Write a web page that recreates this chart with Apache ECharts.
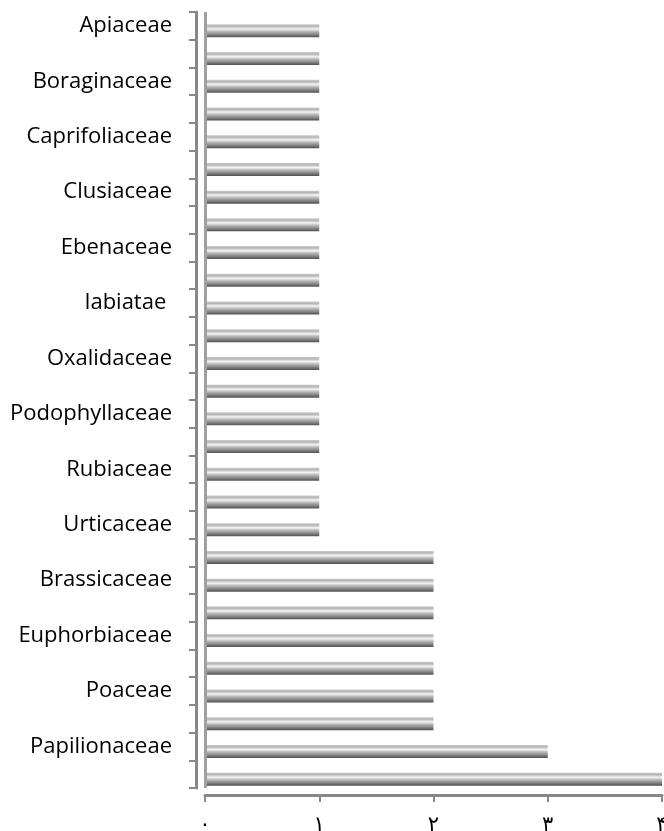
<!DOCTYPE html>
<html>
<head>
<meta charset="utf-8">
<script src="https://cdn.jsdelivr.net/npm/echarts@6/dist/echarts.min.js"></script>
<style>
  html, body { margin: 0; padding: 0; background: #fff; }
  #main { width: 664px; height: 831px; }
</style>
</head>
<body>
<div id="main"></div>
<script>
// categories top to bottom; only every other name is printed in the source
const families = [
  'Apiaceae', '', 'Boraginaceae', '', 'Caprifoliaceae', '', 'Clusiaceae', '',
  'Ebenaceae', '', 'labiatae ', '', 'Oxalidaceae', '', 'Podophyllaceae', '',
  'Rubiaceae', '', 'Urticaceae', '', 'Brassicaceae', '', 'Euphorbiaceae', '',
  'Poaceae', '', 'Papilionaceae', ''
];
const counts = [
  1, 1, 1, 1, 1, 1, 1, 1, 1, 1, 1, 1, 1, 1, 1, 1, 1, 1, 1,
  2, 2, 2, 2, 2, 2, 2,
  3, 4
];
const tickLabels = ['۰', '۱', '۲', '۳', '۴'];

const chart = echarts.init(document.getElementById('main'));

// cylinder look
const barFill = new echarts.graphic.LinearGradient(0, 0, 0, 1, [
  { offset: 0, color: '#cccccc' },
  { offset: 0.15, color: '#b4b4b4' },
  { offset: 0.35, color: '#f4f4f4' },
  { offset: 0.55, color: '#b8b8b8' },
  { offset: 0.78, color: '#858585' },
  { offset: 1, color: '#505050' }
]);

chart.setOption({
  animation: false,
  grid: { left: 205, right: 2, top: 12, bottom: 43, outerBoundsMode: 'none' },
  xAxis: {
    type: 'value',
    min: 0,
    max: 4,
    interval: 1,
    offset: 7,
    axisLine: { show: true, lineStyle: { color: '#888888', width: 3 } },
    axisTick: { show: true, length: 7, lineStyle: { color: '#888888', width: 2 } },
    splitLine: { show: false },
    axisLabel: {
      margin: 20,
      fontFamily: 'DejaVu Sans',
      fontSize: 21,
      color: '#000',
      formatter: v => tickLabels[v]
    }
  },
  yAxis: {
    type: 'category',
    inverse: true,
    data: families,
    offset: 9,
    axisLine: { show: true, onZero: false, lineStyle: { color: '#888888', width: 3 } },
    axisTick: { show: true, interval: 0, length: 7, lineStyle: { color: '#888888', width: 2 } },
    axisLabel: {
      interval: 0,
      margin: 24,
      fontFamily: 'Open Sans',
      fontSize: 22,
      color: '#000'
    }
  },
  series: [{
    type: 'pictorialBar',
    data: counts,
    symbol: 'rect',
    symbolSize: ['100%', 13],
    symbolOffset: [0, 5],
    itemStyle: { color: barFill },
    markLine: {
      silent: true,
      symbol: 'none',
      label: { show: false },
      lineStyle: { color: '#a0a0a0', width: 3, type: 'solid' },
      data: [{ xAxis: 0 }]
    }
  }]
});
</script>
</body>
</html>
